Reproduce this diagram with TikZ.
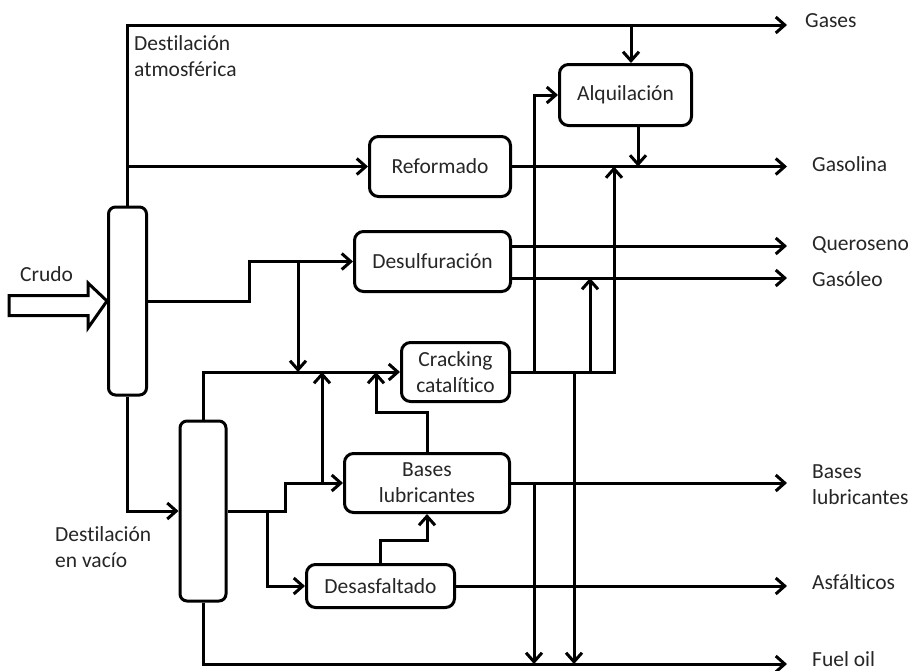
\documentclass[tikz,border=0pt]{standalone}
\usepackage{fontspec}
\setmainfont{Carlito}[Ligatures=NoCommon]
\usetikzlibrary{arrows.meta,calc}
\newcommand\diagfont{\fontsize{21.5}{26}\selectfont}
\begin{document}
\begin{tikzpicture}[x=1pt,y=-1pt,
  pipe/.style={line width=3pt},
  flow/.style={pipe, -{Straight Barb[length=9pt,width=16pt,line width=3pt]}},
  unit/.style={draw, line width=3pt, rounded corners=9pt, align=center,
    inner sep=2pt, font=\diagfont, text=black!85},
  column/.style={draw, line width=3pt, rounded corners=7pt},
  tag/.style={inner sep=0pt, anchor=base west, font=\diagfont, text=black!85}]
\fill[white] (0,0) rectangle (913,670);
\useasboundingbox (0,0) rectangle (913,670);

% distillation columns
\node[column, minimum width=38pt, minimum height=188pt] (atm) at (127.5,301) {};
\node[column, minimum width=46pt, minimum height=180pt] (vac) at (203,511) {};

% process units
\node[unit, minimum width=141pt, minimum height=60pt] (ref) at (440,166.5) {Reformado};
\node[unit, minimum width=132pt, minimum height=61pt] (alq) at (625.5,95) {Alquilación};
\node[unit, minimum width=156pt, minimum height=60pt] (des) at (432.5,261.5) {Desulfuración};
\node[unit, minimum width=108pt, minimum height=59pt] (crk) at (455.5,372) {Cracking\\catalítico};
\node[unit, minimum width=165pt, minimum height=59pt] (bas) at (427,483) {Bases\\lubricantes};
\node[unit, minimum width=148pt, minimum height=43pt] (dsa) at (380.5,586) {Desasfaltado};

% product outlets
\coordinate (oGas) at (787,25);
\coordinate (oGsl) at (787,166.5);
\coordinate (oQue) at (787,246);
\coordinate (oGso) at (787,278);
\coordinate (oBas) at (787,483);
\coordinate (oAsf) at (787,586);
\coordinate (oFue) at (787,664);

% labels
\node[tag] (tGas) at (805,27) {Gases};
\node[tag] (tGsl) at (812,171) {Gasolina};
\node[tag] (tQue) at (812,250) {Queroseno};
\node[tag] (tGso) at (812,286) {Gasóleo};
\node[tag] (tBas) at (812,478) {\begin{tabular}[t]{@{}l@{}}Bases\\lubricantes\end{tabular}};
\node[tag] (tAsf) at (812,589) {Asfálticos};
\node[tag] (tFue) at (812,666) {Fuel oil};
\node[tag] (tAtm) at (134,50) {\begin{tabular}[t]{@{}l@{}}Destilación\\atmosférica\end{tabular}};
\node[tag] (tVac) at (55,541) {\begin{tabular}[t]{@{}l@{}}Destilación\\en vacío\end{tabular}};
\node[tag] (tCru) at (20,281) {Crudo};

% crude feed (hollow block arrow)
\draw[line width=3pt, line join=miter]
  (9,295.5) -- (88,295.5) -- (88,283) -- (atm.west) -- (88,328) -- (88,315.5) -- (9,315.5) -- cycle;

% atmospheric column
\draw[flow] (atm.north) |- (oGas);
\draw[flow] (atm.north |- ref.west) -- (ref.west);
\draw[flow] (ref.east) -- (oGsl);
\draw[flow] (atm.east) -- ++(101,0) |- (des.west);
\draw[flow] (atm.south) |- (vac.west);

% alkylation
\coordinate (jg) at (631,25);
\draw[flow] (jg) -- (jg |- alq.north);
\coordinate (ja) at (638,0);
\draw[flow] (ja |- alq.south) -- (ja |- ref.east);

% desulfurisation
\coordinate (jd) at (298,261.5);
\draw[flow] (jd) -- (jd |- crk.west);
\draw[flow] ($(des.east)+(0,-15.5)$) -- (oQue);
\draw[flow] ($(des.east)+(0,16.5)$) -- (oGso);

% vacuum column
\draw[flow] (vac.north) |- (crk.west);
\draw[flow] (vac.east) -- ++(58,0) |- (bas.west);
\coordinate (jb) at (322,483);
\draw[flow] (jb) -- (jb |- crk.west);
\coordinate (jv) at (267,511);
\draw[flow] (jv) |- (dsa.west);
\draw[flow] (vac.south) |- (oFue);

% lube bases and deasphalting
\draw[flow] (bas.north) |- ($(crk.west)+(-24,40)$) -- ($(crk.west)+(-24,0)$);
\draw[flow] (dsa.north) |- ($(bas.south)+(0,26)$) -- (bas.south);
\draw[flow] (bas.east) -- (oBas);
\coordinate (jl) at (534,483);
\draw[flow] (jl) -- (jl |- oFue);
\draw[flow] (dsa.east) -- (oAsf);

% catalytic cracking products
\draw[flow] (crk.east) -| (614,166.5);
\coordinate (jc1) at (534,372);
\draw[flow] (jc1) |- (alq.west);
\coordinate (jc2) at (590,372);
\draw[flow] (jc2) -- (jc2 |- oGso);
\coordinate (jc3) at (574,372);
\draw[flow] (jc3) -- (jc3 |- oFue);
\end{tikzpicture}
\end{document}
